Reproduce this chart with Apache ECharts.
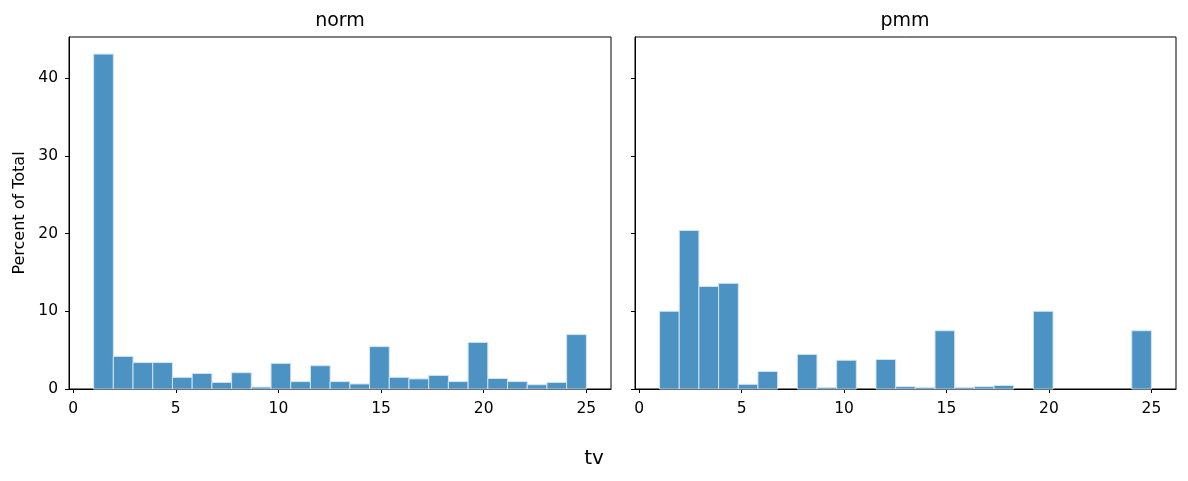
<!DOCTYPE html>
<html>
<head>
<meta charset="utf-8">
<script src="https://cdn.jsdelivr.net/npm/echarts@6/dist/echarts.min.js"></script>
<style>
  html, body { margin: 0; padding: 0; background: #fff; }
  #chart { width: 1188px; height: 481px; }
</style>
</head>
<body>
<div id="chart"></div>
<script>
// histogram bins: 25 bins from 1 to 25
const binStart = 1;
const binWidth = 0.96;
const panelNames = ['norm', 'pmm'];
const normPct = [43.1, 4.2, 3.4, 3.4, 1.5, 2.0, 0.85, 2.1, 0.25, 3.3, 0.95, 3.0, 0.95, 0.65, 5.45,
                 1.5, 1.3, 1.75, 0.95, 6.0, 1.35, 0.95, 0.55, 0.85, 7.0];
const pmmPct = [10.0, 20.4, 13.2, 13.6, 0.6, 2.25, 0, 4.45, 0.2, 3.7, 0, 3.8, 0.3, 0.2, 7.5,
                0.2, 0.3, 0.45, 0, 10.0, 0, 0, 0, 0, 7.5];
const xTicks = [0, 5, 10, 15, 20, 25];
const yTicks = [0, 10, 20, 30, 40];

function toBins(vals) {
  return vals.map((v, i) => [binStart + i * binWidth, binStart + (i + 1) * binWidth, v]);
}

function renderBar(params, api) {
  const v = api.value(2);
  if (!v) return null;
  const p0 = api.coord([api.value(0), v]);
  const p1 = api.coord([api.value(1), 0]);
  return {
    type: 'rect',
    shape: { x: p0[0], y: p0[1], width: p1[0] - p0[0], height: p1[1] - p0[1] },
    style: { fill: 'rgba(31,119,180,0.8)', stroke: '#d3e4f0', lineWidth: 1 }
  };
}

const font = 'DejaVu Sans';
const chart = echarts.init(document.getElementById('chart'));

const grids = [
  { left: 69, top: 37, width: 542, height: 352 },
  { left: 635, top: 37, width: 541, height: 352 }
];

function xAxisFor(i) {
  return {
    type: 'value', gridIndex: i, min: -0.2, max: 26.2,
    axisLine: { show: true, onZero: false, lineStyle: { color: '#000', width: 1 } },
    axisTick: { show: true, length: 4, lineStyle: { color: '#000' }, customValues: xTicks },
    axisLabel: { color: '#000', fontSize: 15.5, fontFamily: font, margin: 12, customValues: xTicks },
    splitLine: { show: false }
  };
}

function yAxisFor(i) {
  return {
    type: 'value', gridIndex: i, min: 0, max: 45.3,
    name: i === 0 ? 'Percent of Total' : '',
    nameLocation: 'middle', nameRotate: 90, nameGap: 41,
    nameTextStyle: { color: '#000', fontSize: 16, fontFamily: font },
    axisLine: { show: true, onZero: false, lineStyle: { color: '#000', width: 1 } },
    axisTick: { show: true, length: 4, lineStyle: { color: '#000' }, customValues: yTicks },
    axisLabel: { show: i === 0, color: '#000', fontSize: 15.5, fontFamily: font, margin: 11, customValues: yTicks },
    splitLine: { show: false }
  };
}

const textStyle = { fill: '#000', fontFamily: font, align: 'center', verticalAlign: 'middle' };

chart.setOption({
  animation: false,
  graphic: [
    { type: 'text', x: 340, y: 21, style: Object.assign({ text: panelNames[0], fontSize: 19 }, textStyle) },
    { type: 'text', x: 905, y: 21, style: Object.assign({ text: panelNames[1], fontSize: 19 }, textStyle) },
    { type: 'text', x: 594, y: 459, style: Object.assign({ text: 'tv', fontSize: 20 }, textStyle) }
  ],
  grid: grids.map(g => Object.assign({ show: true, borderColor: '#000', borderWidth: 1, backgroundColor: 'transparent' }, g)),
  xAxis: [xAxisFor(0), xAxisFor(1)],
  yAxis: [yAxisFor(0), yAxisFor(1)],
  series: [
    { name: panelNames[0], type: 'custom', xAxisIndex: 0, yAxisIndex: 0,
      renderItem: renderBar, encode: { x: [0, 1], y: 2 }, data: toBins(normPct) },
    { name: panelNames[1], type: 'custom', xAxisIndex: 1, yAxisIndex: 1,
      renderItem: renderBar, encode: { x: [0, 1], y: 2 }, data: toBins(pmmPct) }
  ]
});
</script>
</body>
</html>
